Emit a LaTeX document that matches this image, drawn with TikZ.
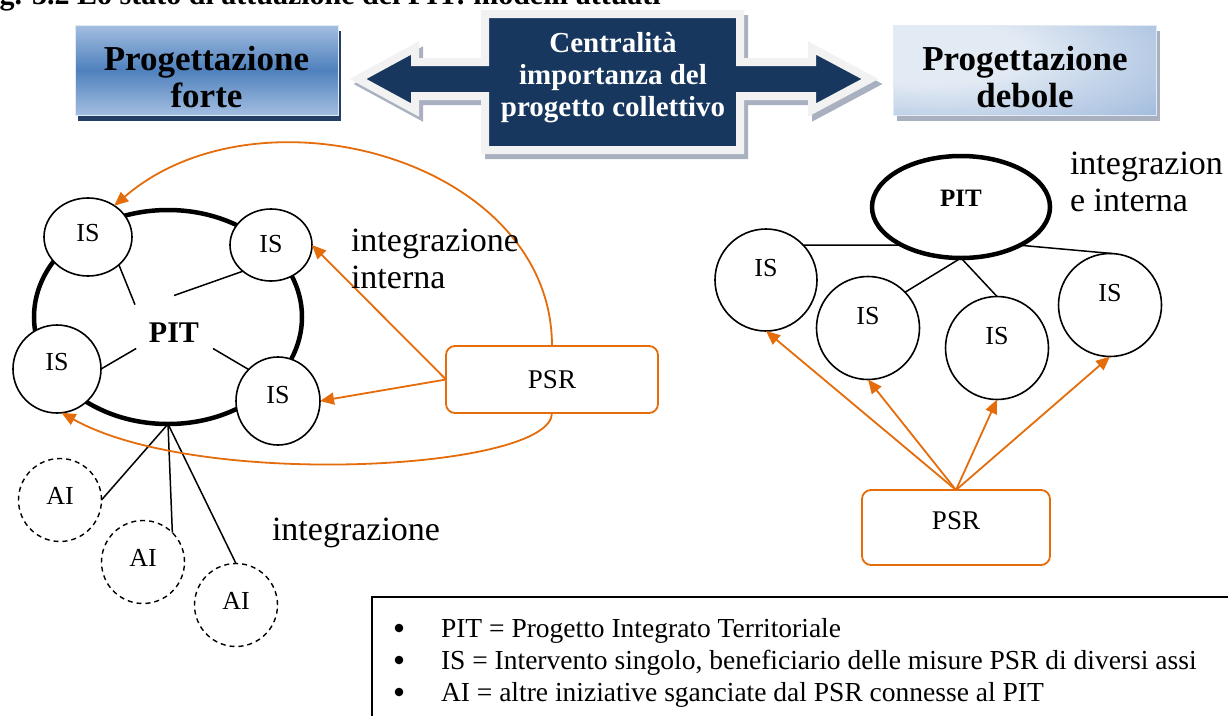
\documentclass[tikz,border=0pt]{standalone}
\usepackage{fontspec}
\setmainfont{Liberation Serif}
\usetikzlibrary{arrows.meta,shapes.geometric,shadows}
\definecolor{navy}{HTML}{17375E}
\definecolor{navyshadow}{HTML}{243F66}
\definecolor{psrorange}{HTML}{E46C0A}
\definecolor{boxlight}{HTML}{A3BEE0}
\definecolor{boxmid}{HTML}{4F81BD}
\definecolor{boxpale}{HTML}{E2EAF4}
\definecolor{boxedge}{HTML}{94B2D8}
\definecolor{rim}{HTML}{F2F2F2}
\definecolor{greyshadow}{HTML}{A9B1C0}
\pgfdeclareradialshading{paleglow}{\pgfpoint{-22bp}{12bp}}{%
  color(0bp)=(boxpale); color(18bp)=(boxpale); color(55bp)=(boxedge); color(100bp)=(boxedge)}
\begin{document}
\begin{tikzpicture}[x=1pt,y=-1pt,
  every node/.style={inner sep=0pt,outer sep=0pt},
  headbox/.style={rectangle,minimum width=263pt,minimum height=90pt},
  headtext/.style={align=center,font=\bfseries\fontsize{35}{37}\selectfont},
  isnode/.style={ellipse,draw,line width=1.6pt,fill=white,
    font=\fontsize{26}{28}\selectfont},
  ainode/.style={circle,draw,line width=1.4pt,dash pattern=on 5pt off 4pt,fill=white,
    minimum size=83pt,text depth=8pt,font=\fontsize{26}{28}\selectfont},
  psrbox/.style={rectangle,rounded corners=9pt,draw=psrorange,line width=1.8pt,fill=white,
    font=\fontsize{27}{29}\selectfont},
  link/.style={line width=1.5pt},
  feed/.style={draw=psrorange,line width=1.8pt,-{Triangle[length=14pt,width=12pt]}},
  note/.style={font=\fontsize{34}{37}\selectfont,align=left,anchor=base west},
  keyline/.style={anchor=base west,font=\fontsize{27.5}{30}\selectfont}]

\clip (0,0) rectangle (1228,715);

% caption running above the figure
\node[anchor=base west,font=\bfseries\fontsize{30}{32}\selectfont] (caption) at (-27,4)
  {Fig. 3.2 Lo stato di attuazione dei PIT: modelli attuati};

% ---------- header: two approaches and the double arrow ----------
\node[headbox,top color=boxlight,bottom color=boxlight,middle color=boxmid,
      draw=boxpale,line width=0.8pt,
      general shadow={fill=navyshadow,shadow xshift=3pt,shadow yshift=-6pt}]
  (forte) at (206.5,70) {};
\node[headtext] (forteText) at (206.5,77) {Progettazione\\forte};
\node[headbox,shading=paleglow,draw=boxpale,line width=0.8pt,
      general shadow={fill=greyshadow,shadow xshift=3pt,shadow yshift=-6pt}]
  (debole) at (1025,70) {};
\node[headtext] (deboleText) at (1025,77) {Progettazione\\debole};

\def\arrowoutline{(485,14) -- (740,14) -- (740,62) -- (812,62) -- (812,48) -- (870,79)
  -- (812,110) -- (812,96) -- (740,96) -- (740,150) -- (485,150) -- (485,96) -- (415,96)
  -- (415,110) -- (358,79) -- (415,48) -- (415,62) -- (485,62) -- cycle}
\begin{scope}[shift={(4,5)}]
  \filldraw[greyshadow,line width=8pt,line join=miter] \arrowoutline;
\end{scope}
\filldraw[fill=navy,draw=rim,line width=8pt,line join=miter] \arrowoutline;
\node[align=center,text=white,font=\bfseries\fontsize{29}{32}\selectfont] (central)
  at (613,78) {Centralità\\importanza del\\progetto collettivo};

% ---------- strong design: PIT ring with its IS ----------
\node[ellipse,draw,line width=4.5pt,minimum width=268pt,minimum height=214pt] (pitE) at (168,317) {};
\node[rectangle,minimum width=78pt,minimum height=53pt,text height=40pt,
      font=\bfseries\fontsize{30}{32}\selectfont] (pitL) at (174,322) {PIT};

\node[isnode,minimum width=88pt,minimum height=78pt,text depth=8pt] (is1) at (88,237) {IS};
\node[isnode,minimum width=82pt,minimum height=72pt,text depth=2pt] (is2) at (271,245) {IS};
\node[isnode,minimum width=88pt,minimum height=88pt,text depth=14pt] (is3) at (57,369) {IS};
\node[isnode,minimum width=84pt,minimum height=88pt,text depth=12pt] (is4) at (278,401) {IS};

\draw[link] (is1.-42) -- (pitL.156);
\draw[link] (is2.223) -- (pitL.north);
\draw[link] (is3.east) -- (pitL.215);
\draw[link] (is4.133) -- (pitL.south east);

\node[ainode] (ai1) at (60,500) {AI};
\node[ainode] (ai2) at (143,562) {AI};
\node[ainode] (ai3) at (236,605) {AI};
\draw[link] (pitE.south) -- (ai1.east);
\draw[link] (pitE.south) -- (ai2.45);
\draw[link] (pitE.south) -- (ai3.north);

\node[psrbox,minimum width=212pt,minimum height=67pt] (psrL) at (552,379.5) {PSR};
\draw[feed] (psrL.west) -- (is4.east);
\draw[feed] (psrL.west) -- (is2.east);
\draw[feed] (psrL.north) .. controls (552,160) and (260,80) .. (is1.50);
\draw[feed] (psrL.south) .. controls (552,470) and (200,490) .. (is3.-84);

\node[note] (intL) at (351,288) {integrazione\\interna};
\node[note] (intB) at (272,540) {integrazione};

% ---------- weak design: PIT above a row of IS ----------
\node[ellipse,draw,line width=4.5pt,minimum width=178pt,minimum height=102pt,text depth=18pt,
      font=\bfseries\fontsize{25}{28}\selectfont] (pitR) at (961,207) {PIT};
\node[isnode,minimum size=102pt,text depth=24pt] (r1) at (766,280) {IS};
\node[isnode,minimum size=103pt,text depth=24pt] (r2) at (868,328) {IS};
\node[isnode,minimum size=103pt,text depth=24pt] (r3) at (997,348) {IS};
\node[isnode,minimum size=103pt,text depth=24pt] (r4) at (1110,305) {IS};

\draw[link] (r1.43) -- (pitR.213);
\draw[link] (pitR.327) -- (r4.87);
\draw[link] (pitR.south) -- (r2.44);
\draw[link] (pitR.south) -- (r3.north);

\node[psrbox,minimum width=188pt,minimum height=75pt,text depth=14pt] (psrR) at (956,527.5) {PSR};
\draw[feed] (psrR.north) -- (r1.south);
\draw[feed] (psrR.north) -- (r2.south);
\draw[feed] (psrR.north) -- (r3.south);
\draw[feed] (psrR.north) -- (r4.south);

\node[note] (intR) at (1070,211) {integrazion\\e interna};

% ---------- key ----------
\node[rectangle,draw,line width=2pt,anchor=north west,minimum width=900pt,minimum height=160pt]
  (keybox) at (372,597) {};
\foreach \y in {628,660,692} \fill (399,\y) circle (4.3pt);
\node[keyline] (keyPIT) at (441,637) {PIT = Progetto Integrato Territoriale};
\node[keyline] (keyIS) at (441,669) {IS = Intervento singolo, beneficiario delle misure PSR di diversi assi};
\node[keyline] (keyAI) at (441,701) {AI = altre iniziative sganciate dal PSR connesse al PIT};
\end{tikzpicture}
\end{document}
